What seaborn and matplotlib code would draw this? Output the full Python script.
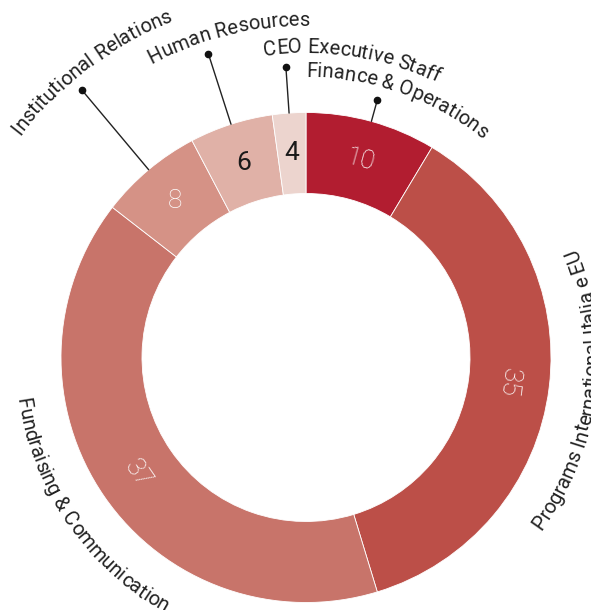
import numpy as np
import matplotlib.pyplot as plt
import seaborn as sns
from matplotlib.font_manager import FontProperties

# data
categories = ['Finance & Operations', 'Programs International Italia e EU',
              'Fundraising & Communication', 'Institutional Relations',
              'Human Resources', 'CEO Executive Staff']
values = [10, 35, 37, 8, 6, 4]              # numbers printed on the ring
shares = [8.6, 36.7, 40.2, 6.8, 5.5, 2.2]   # arc sizes as drawn in the chart
colors = ['#b21d30', '#bc4f48', '#c8746a', '#d59286', '#e0b1a7', '#ecd4ce']
value_colors = ['white', 'white', 'white', 'white', '#1a1a1a', '#1a1a1a']

sns.set_theme(style='white')
plt.rcParams['font.family'] = ['Roboto', 'DejaVu Sans']

W, H = 591, 610
fig = plt.figure(figsize=(W / 100, H / 100), dpi=100)
ax = fig.add_axes([0, 0, 1, 1])

cx, cy = 306, H - 357.5
R_out, ring = 245, 81

ax.pie(shares, colors=colors, startangle=90, counterclock=False,
       radius=R_out, center=(cx, cy),
       wedgeprops=dict(width=ring, edgecolor='white', linewidth=0.6))
ax.set_xlim(0, W)
ax.set_ylim(0, H)
ax.set_aspect('equal')
ax.axis('off')

# wedge angles (degrees, math convention)
frac = np.array(shares) / sum(shares) * 360
ends = 90 - np.cumsum(frac)
starts = ends + frac
mids = (starts + ends) / 2

# numbers on the ring
r_mid = R_out - ring / 2
for v, th, c in zip(values, mids, value_colors):
    if v >= 10:
        rot = (th - 90 + 180) % 360 - 180
        if rot > 90:
            rot -= 180
    else:
        rot = 0
    t = np.radians(th)
    ax.text(cx + r_mid * np.cos(t), cy + r_mid * np.sin(t), str(v),
            color=c, fontsize=19,
            fontweight='light' if c == 'white' else 'normal', rotation=rot,
            rotation_mode='anchor', ha='center', va='center')

# curved category labels
renderer = fig.canvas.get_renderer()
lab_prop = FontProperties(family=['Roboto', 'DejaVu Sans'], weight='normal', size=14.5)


def char_width(c):
    w1 = renderer.get_text_width_height_descent('x' + c + 'x', lab_prop, ismath=False)[0]
    w0 = renderer.get_text_width_height_descent('xx', lab_prop, ismath=False)[0]
    return w1 - w0


def arc_text(s, r, theta0, clockwise, centered=False):
    adv = [char_width(c) for c in s]
    sign = -1 if clockwise else 1
    if centered:
        theta0 = theta0 - sign * np.degrees(sum(adv) / 2 / r)
    pos = 0
    for c, a in zip(s, adv):
        th = theta0 + sign * np.degrees((pos + a / 2) / r)
        t = np.radians(th)
        rot = th - 90 if clockwise else th + 90
        ax.text(cx + r * np.cos(t), cy + r * np.sin(t), c, fontproperties=lab_prop,
                color='#222222', rotation=rot, rotation_mode='anchor',
                ha='center', va='baseline')
        pos += a


# small segments at top: leader line + dot + label
dot_r = {0: 267.5, 3: 349, 4: 319, 5: 291.5}
for i, rd in dot_r.items():
    t = np.radians(mids[i])
    ax.plot([cx + R_out * np.cos(t), cx + rd * np.cos(t)],
            [cy + R_out * np.sin(t), cy + rd * np.sin(t)],
            color='#222222', lw=1)
    ax.plot(cx + rd * np.cos(t), cy + rd * np.sin(t), 'o', color='#111111', ms=4.5)
    arc_text(categories[i], rd + 13, starts[i], clockwise=True)

# big segments: label hugging the ring
for i in (1, 2):
    arc_text(categories[i], 292, mids[i], clockwise=False, centered=True)

fig.savefig('out.png', dpi=100)
